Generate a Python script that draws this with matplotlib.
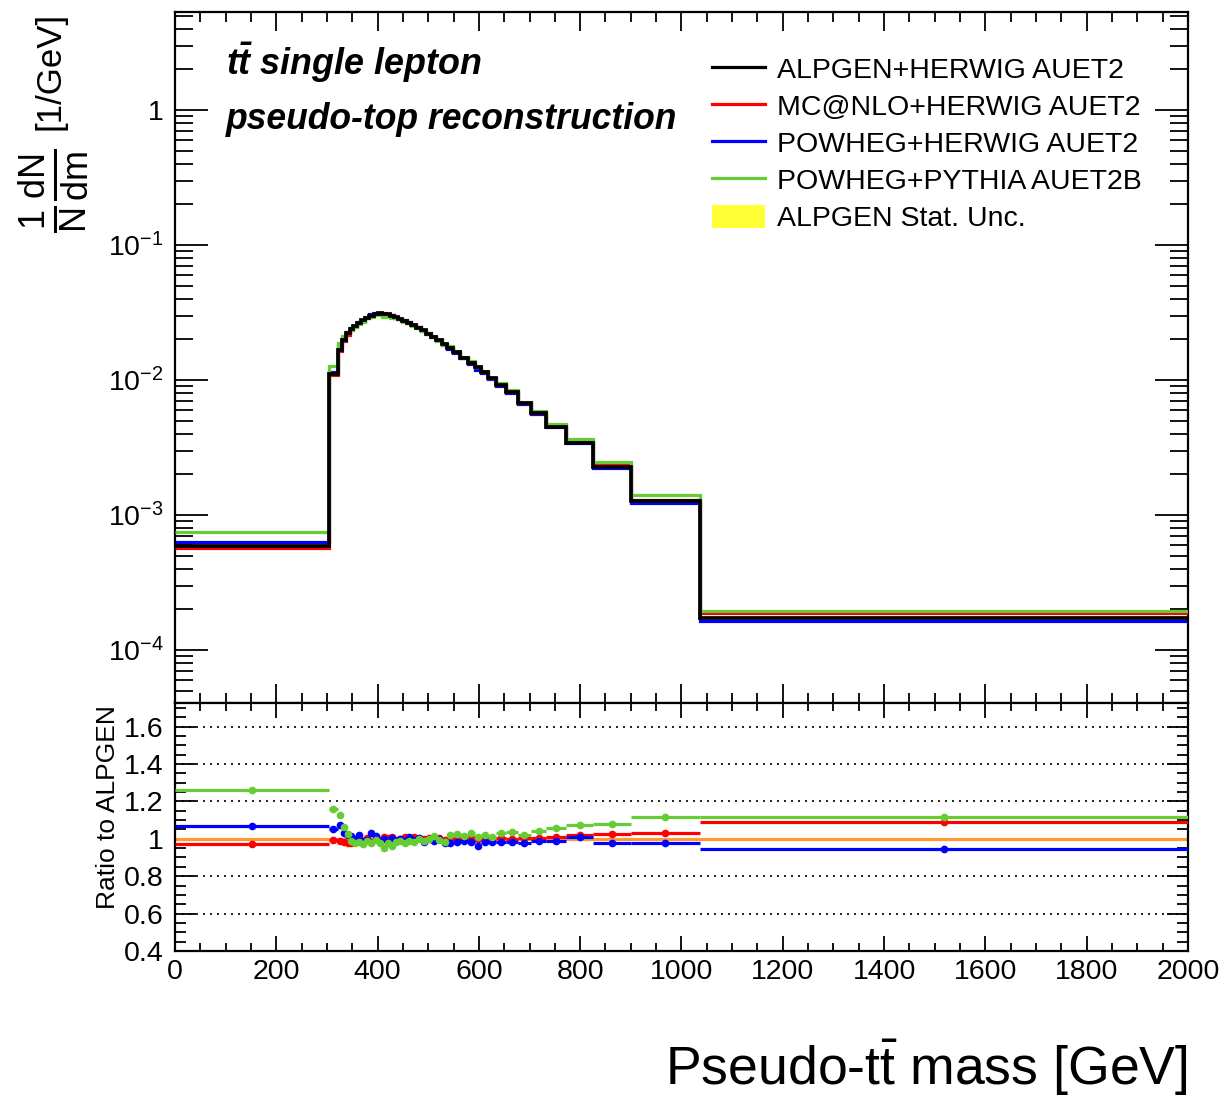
import numpy as np
import matplotlib
matplotlib.use("Agg")
import matplotlib.pyplot as plt
from matplotlib.lines import Line2D
from matplotlib.patches import Patch
from matplotlib.ticker import MultipleLocator, FixedLocator, FixedFormatter, LogLocator, NullFormatter

plt.rcParams['font.family'] = ['Liberation Sans', 'DejaVu Sans']
plt.rcParams['mathtext.fontset'] = 'custom'
plt.rcParams['mathtext.rm'] = 'Liberation Sans'
plt.rcParams['mathtext.it'] = 'Liberation Sans:italic'
plt.rcParams['mathtext.bf'] = 'Liberation Sans:bold:italic'

# bin edges of the pseudo-top ttbar mass [GeV]
edges = [0, 305, 321, 330, 338, 345, 352, 360, 368, 376, 384, 392, 400, 408, 416,
         424, 432, 440, 449, 458, 467, 476, 486, 496, 506, 516, 527, 538, 549, 563,
         578, 592, 605, 618, 634, 654, 677, 703, 733, 773, 825, 900, 1036, 2000]

# ALPGEN+HERWIG normalised distribution (1/N dN/dm)
alpgen = [5.9e-4, 0.0110, 0.0167, 0.0198, 0.0222, 0.0238, 0.0252, 0.0265, 0.0278,
          0.0290, 0.0300, 0.0307, 0.0311, 0.0310, 0.0306, 0.0300, 0.0293, 0.0284,
          0.0275, 0.0265, 0.0255, 0.0244, 0.0233, 0.0221, 0.0209, 0.0197, 0.0186,
          0.0174, 0.0160, 0.0146, 0.0134, 0.0124, 0.0114, 0.0103, 0.00918, 0.00819,
          0.00672, 0.00566, 0.00451, 0.00340, 0.00228, 0.00126, 1.73e-4]

# ratios to ALPGEN
ratio_mcnlo = [0.971, 0.995, 0.99, 0.985, 0.975, 0.98, 0.985, 1.0, 0.99, 1.005, 0.985,
               1.0, 0.995, 1.01, 1.005, 1.01, 0.995, 1.0, 1.01, 1.0, 1.01, 1.005, 1.0,
               1.005, 1.0, 1.005, 0.995, 1.005, 1.0, 1.005, 1.005, 1.0, 1.005, 1.0,
               1.005, 1.0, 1.005, 1.005, 1.01, 1.02, 1.023, 1.03, 1.088]
ratio_powheg_herwig = [1.066, 1.05, 1.075, 1.03, 1.02, 1.015, 1.0, 1.02, 0.99, 0.995,
                       1.03, 1.015, 0.99, 1.0, 0.985, 1.005, 0.99, 1.0, 0.99, 1.01,
                       0.995, 1.005, 0.985, 1.0, 0.99, 1.0, 0.98, 0.98, 0.985, 0.99,
                       0.985, 0.96, 0.985, 0.985, 0.985, 0.985, 0.98, 0.99, 0.99,
                       1.01, 0.975, 0.98, 0.945]
ratio_powheg_pythia = [1.259, 1.16, 1.125, 1.065, 1.025, 0.99, 0.975, 0.985, 0.97, 0.99,
                       0.975, 0.995, 0.98, 0.95, 0.975, 0.96, 0.985, 0.99, 0.98, 0.99,
                       0.985, 1.0, 0.99, 1.0, 1.015, 0.995, 0.985, 1.02, 1.025, 1.015,
                       1.03, 1.01, 1.02, 1.01, 1.03, 1.035, 1.02, 1.04, 1.055, 1.075,
                       1.08, 1.115, 1.115]
alpgen_stat = 0.004

labels = ['ALPGEN+HERWIG AUET2', 'MC@NLO+HERWIG AUET2', 'POWHEG+HERWIG AUET2',
          'POWHEG+PYTHIA AUET2B', 'ALPGEN Stat. Unc.']
c_red, c_blue, c_green, c_yel = '#ff0000', '#0000ff', '#66cc33', '#ffff33'

edges = np.array(edges, dtype=float)
alpgen = np.array(alpgen)
centers = 0.5 * (edges[1:] + edges[:-1])
half = 0.5 * np.diff(edges)

fig = plt.figure(figsize=(12.26, 10.97), dpi=100)
ax = fig.add_axes([0.1427, 0.35916, 0.8263, 0.6299])
rx = fig.add_axes([0.1427, 0.13309, 0.8263, 0.22607])

lw = 2.3
# main panel
ax.stairs(alpgen * (1 + alpgen_stat), edges, baseline=alpgen * (1 - alpgen_stat),
          fill=True, color=c_yel, zorder=1)
ax.stairs(alpgen * np.array(ratio_powheg_herwig), edges, baseline=None, color=c_blue, lw=lw, zorder=2)
ax.stairs(alpgen * np.array(ratio_mcnlo), edges, baseline=None, color=c_red, lw=lw, zorder=3)
ax.stairs(alpgen * np.array(ratio_powheg_pythia), edges, baseline=None, color=c_green, lw=lw, zorder=4)
ax.stairs(alpgen, edges, baseline=None, color='black', lw=lw + 0.4, zorder=5)

ax.set_yscale('log')
ax.set_xlim(0, 2000)
ax.set_ylim(4.05e-5, 5.32)
ax.yaxis.set_major_locator(FixedLocator([1e-4, 1e-3, 1e-2, 1e-1, 1]))
ax.yaxis.set_major_formatter(FixedFormatter([r'$\mathrm{10^{-4}}$', r'$\mathrm{10^{-3}}$',
                                             r'$\mathrm{10^{-2}}$', r'$\mathrm{10^{-1}}$', '1']))
ax.yaxis.set_minor_locator(LogLocator(base=10, subs=np.arange(2, 10), numticks=20))
ax.yaxis.set_minor_formatter(NullFormatter())
ax.xaxis.set_major_locator(MultipleLocator(200))
ax.xaxis.set_minor_locator(MultipleLocator(50))
ax.tick_params(axis='x', which='both', labelbottom=False)
ax.tick_params(axis='both', which='both', direction='in', top=True, right=True, width=1.3)
ax.tick_params(axis='x', which='major', length=14)
ax.tick_params(axis='x', which='minor', length=7)
ax.tick_params(axis='y', which='major', length=24, labelsize=20.5, pad=8)
ax.tick_params(axis='y', which='minor', length=13)
for s in ax.spines.values():
    s.set_linewidth(1.6)

ax.text(0.0503, 0.9276, r'$\mathbf{t\bar{t}}$ single lepton', transform=ax.transAxes,
        fontsize=25.8, fontweight='bold', style='italic', va='center', ha='left')
ax.text(0.0503, 0.845, 'pseudo-top reconstruction', transform=ax.transAxes,
        fontsize=25.6, fontweight='bold', style='italic', va='center', ha='left')

handles = [Line2D([], [], color='black', lw=2.3), Line2D([], [], color=c_red, lw=2.3),
           Line2D([], [], color=c_blue, lw=2.3), Line2D([], [], color=c_green, lw=2.3),
           Patch(facecolor=c_yel, edgecolor='none')]
ax.legend(handles, labels, loc='upper left', bbox_to_anchor=(0.519, 0.952), frameon=False,
          fontsize=20.5, handlelength=1.85, handleheight=0.9, handletextpad=0.42,
          labelspacing=0.33, borderaxespad=0)

# ratio panel
rx.fill_between(edges, 1 - alpgen_stat, 1 + alpgen_stat, step='post', color=c_yel, lw=0, zorder=1)
for g in [0.6, 0.8, 1.2, 1.4, 1.6]:
    rx.axhline(g, color='black', ls=(0, (1.2, 3)), lw=1.2, zorder=0)
rx.axhline(1.0, color='#ff9933', lw=2.3, zorder=2)
for r, c, z in [(ratio_mcnlo, c_red, 3), (ratio_powheg_herwig, c_blue, 4), (ratio_powheg_pythia, c_green, 5)]:
    rx.errorbar(centers, r, xerr=half, fmt='o', color=c, ms=4.5, elinewidth=2.3,
                capsize=0, zorder=z)

rx.set_xlim(0, 2000)
rx.set_ylim(0.4, 1.726)
rx.xaxis.set_major_locator(MultipleLocator(200))
rx.xaxis.set_minor_locator(MultipleLocator(50))
rx.yaxis.set_major_locator(FixedLocator([0.4, 0.6, 0.8, 1.0, 1.2, 1.4, 1.6]))
rx.yaxis.set_major_formatter(FixedFormatter(['0.4', '0.6', '0.8', '1', '1.2', '1.4', '1.6']))
rx.yaxis.set_minor_locator(MultipleLocator(0.05))
rx.tick_params(axis='both', which='both', direction='in', top=True, right=True, width=1.3,
               labelsize=20.5)
rx.tick_params(axis='x', which='major', length=11, pad=6)
rx.tick_params(axis='x', which='minor', length=6)
rx.tick_params(axis='y', which='major', length=15, pad=8)
rx.tick_params(axis='y', which='minor', length=8)
for s in rx.spines.values():
    s.set_linewidth(1.6)

fig.text(0.041, 0.989, '[1/GeV]', rotation=90, ha='center', va='top', fontsize=25)
fig.text(0.044, 0.826, r'$\mathrm{\frac{1}{N}\frac{dN}{dm}}$', rotation=90,
         ha='center', va='center', fontsize=37)
fig.text(0.088, 0.357, 'Ratio to ALPGEN', rotation=90, ha='center', va='top', fontsize=19)
fig.text(0.969, 0.011, r'Pseudo-$\mathrm{t\bar{t}}$ mass [GeV]', ha='right', va='baseline',
         fontsize=38.6)

fig.savefig('out.png', dpi=100)
